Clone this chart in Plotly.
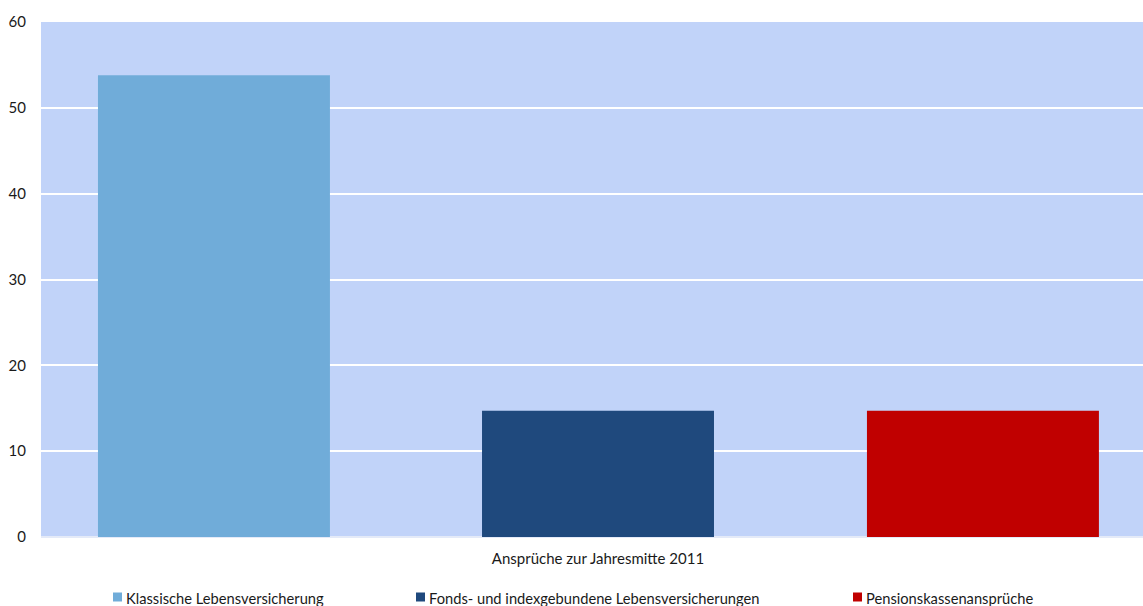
import plotly.graph_objects as go

# Data
category = ["Ansprüche zur Jahresmitte 2011"]
series_names = [
    "Klassische Lebensversicherung",
    "Fonds- und indexgebundene Lebensversicherungen",
    "Pensionskassenansprüche",
]
series_values = [53.8, 14.7, 14.7]
series_colors = ["#70acd9", "#1f497d", "#c00000"]
y_ticks = [0, 10, 20, 30, 40, 50, 60]

FONT = "Lato, 'Open Sans', sans-serif"
TEXT = "#1a1a1a"

# bar placement within the single category slot
bar_width = 0.2105
bar_offsets = [-0.4537, -0.1052, 0.2441]

fig = go.Figure()
for name, val, col, off in zip(series_names, series_values, series_colors, bar_offsets):
    fig.add_trace(go.Bar(
        x=category, y=[val], name=name,
        marker=dict(color=col, line=dict(width=0)),
        width=bar_width, offset=off,
        showlegend=False,
    ))

# legend drawn as colour squares plus labels along the bottom
legend_x = [113, 416, 853]
W, H = 1143, 606
ml, mr, mt, mb = 41, 0, 22, 69
pw, ph = W - ml - mr, H - mt - mb


def px_to_paper_x(px):
    return (px - ml) / pw


def py_to_paper_y(py):
    return (H - mb - py) / ph


for name, col, lx in zip(series_names, series_colors, legend_x):
    fig.add_shape(
        type="rect", xref="paper", yref="paper",
        x0=px_to_paper_x(lx), x1=px_to_paper_x(lx + 9),
        y0=py_to_paper_y(601.5), y1=py_to_paper_y(592.5),
        fillcolor=col, line=dict(width=0),
    )
    fig.add_annotation(
        xref="paper", yref="paper",
        x=px_to_paper_x(lx + 11), y=py_to_paper_y(597.5),
        xanchor="left", yanchor="middle",
        text=name, showarrow=False,
        font=dict(family=FONT, size=14.7, color=TEXT),
    )

fig.update_layout(
    width=W, height=H,
    margin=dict(l=ml, r=mr, t=mt, b=mb),
    paper_bgcolor="white",
    plot_bgcolor="#c1d3f9",
    barmode="overlay",
    font=dict(family=FONT, size=15, color=TEXT),
)
fig.update_xaxes(
    type="category",
    range=[-0.5054, 0.4946],
    showgrid=False, showline=False, zeroline=False,
    ticks="", tickfont=dict(family=FONT, size=15, color=TEXT),
    ticklabelstandoff=11,
    fixedrange=True,
)
fig.update_yaxes(
    range=[0, 60],
    tickvals=y_ticks,
    showgrid=True, gridcolor="white", gridwidth=1.5,
    zeroline=True, zerolinecolor="#e4eaf8", zerolinewidth=1.5,
    showline=False, ticks="",
    tickfont=dict(family=FONT, size=15, color=TEXT),
    ticklabelstandoff=14,
    fixedrange=True,
)

fig.write_html("out.html")
